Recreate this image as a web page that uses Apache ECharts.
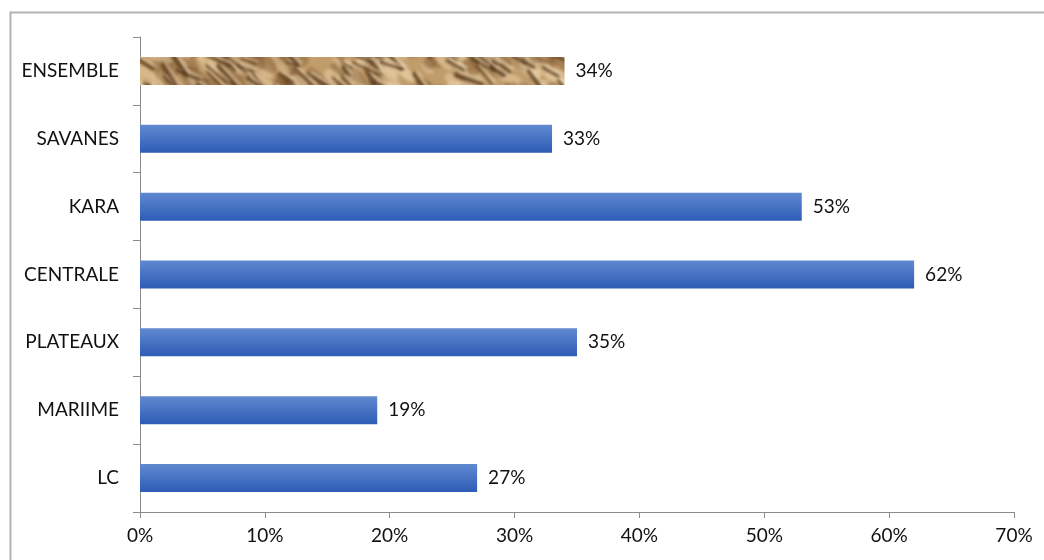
<!DOCTYPE html>
<html>
<head>
<meta charset="utf-8">
<script src="https://cdn.jsdelivr.net/npm/echarts@6/dist/echarts.min.js"></script>
<style>
  html, body { margin: 0; padding: 0; background: #fff; }
  #chart { width: 1044px; height: 560px; }
</style>
</head>
<body>
<div id="chart"></div>
<script>
// Regions, listed bottom to top as they appear on the category axis
const regions = ['LC', 'MARIIME', 'PLATEAUX', 'CENTRALE', 'KARA', 'SAVANES', 'ENSEMBLE'];
// Share per region, in percent
const shares = [27, 19, 35, 62, 53, 33, 34];
// Value axis ticks, in percent
const axisMin = 0;
const axisMax = 70;
const axisStep = 10;

// Crumpled-paper texture for the overall (ENSEMBLE) bar.
// The tile covers the whole chart so no seam shows inside the bar.
function paperTexture() {
  const W = 1044, H = 140;
  const c = document.createElement('canvas');
  c.width = W; c.height = H;
  const g = c.getContext('2d');
  // small deterministic generator so the texture is the same on every load
  let seed = 20240607;
  const rnd = () => { seed = (seed * 1103515245 + 12345) % 2147483648; return seed / 2147483648; };

  g.fillStyle = '#c29d6c';
  g.fillRect(0, 0, W, H);
  g.filter = 'blur(1.5px)';
  // broad light and dark patches
  for (let i = 0; i < 900; i++) {
    const x = rnd() * W, y = rnd() * H;
    const light = rnd() < 0.45;
    g.fillStyle = light ? 'rgba(232,206,164,0.55)' : 'rgba(128,92,52,0.45)';
    g.beginPath();
    g.ellipse(x, y, 6 + rnd() * 14, 3 + rnd() * 5, 0.4 + rnd() * 0.6, 0, Math.PI * 2);
    g.fill();
  }
  // creases: a dark fold with a bright ridge beside it
  for (let i = 0; i < 520; i++) {
    const x = rnd() * W, y = rnd() * H;
    const len = 8 + rnd() * 20;
    const ang = 0.3 + rnd() * 0.7;
    const dx = Math.cos(ang) * len, dy = Math.sin(ang) * len;
    g.lineCap = 'round';
    g.strokeStyle = 'rgba(88,58,28,0.8)';
    g.lineWidth = 2 + rnd() * 3;
    g.beginPath(); g.moveTo(x - dx / 2, y - dy / 2); g.lineTo(x + dx / 2, y + dy / 2); g.stroke();
    g.strokeStyle = 'rgba(240,220,186,0.7)';
    g.lineWidth = 1.5 + rnd() * 1.5;
    g.beginPath(); g.moveTo(x - dx / 2 + 3, y - dy / 2 - 2); g.lineTo(x + dx / 2 + 3, y + dy / 2 - 2); g.stroke();
  }
  g.filter = 'none';
  return c;
}

const blueFill = new echarts.graphic.LinearGradient(0, 0, 0, 1, [
  { offset: 0, color: '#6189d1' },
  { offset: 1, color: '#2d5cb6' }
]);

const barData = shares.map((v, i) => ({
  value: v,
  itemStyle: regions[i] === 'ENSEMBLE'
    ? { color: { image: paperTexture(), repeat: 'repeat' } }
    : { color: blueFill }
}));

const font = 'Lato, "Open Sans", sans-serif';
const fontSize = 19;
const chart = echarts.init(document.getElementById('chart'));
chart.setOption({
  animation: false,
  backgroundColor: '#ffffff',
  graphic: [{
    type: 'rect',
    shape: { x: 10.5, y: 12.5, width: 1100, height: 700 },
    style: { fill: 'none', stroke: '#b2b2b2', lineWidth: 2 },
    silent: true
  }],
  grid: { left: 140, right: 30, top: 37, bottom: 48, containLabel: false },
  xAxis: {
    type: 'value',
    min: axisMin, max: axisMax, interval: axisStep,
    axisLine: { show: true, lineStyle: { color: '#8c8c8c', width: 1 } },
    axisTick: { show: true, length: 6, lineStyle: { color: '#8c8c8c' } },
    splitLine: { show: false },
    axisLabel: { formatter: '{value}%', color: '#111', fontSize: fontSize, fontFamily: font, margin: 14 }
  },
  yAxis: {
    type: 'category',
    data: regions,
    axisLine: { show: true, lineStyle: { color: '#8c8c8c', width: 1 } },
    axisTick: { show: true, length: 7, alignWithLabel: false, lineStyle: { color: '#8c8c8c' } },
    axisLabel: { color: '#111', fontSize: fontSize, fontFamily: font, margin: 21 }
  },
  series: [{
    type: 'bar',
    data: barData,
    barWidth: 28,
    label: {
      show: true,
      position: 'right',
      distance: 11,
      formatter: p => p.value + '%',
      color: '#111',
      fontSize: fontSize,
      fontFamily: font
    }
  }]
});
</script>
</body>
</html>
